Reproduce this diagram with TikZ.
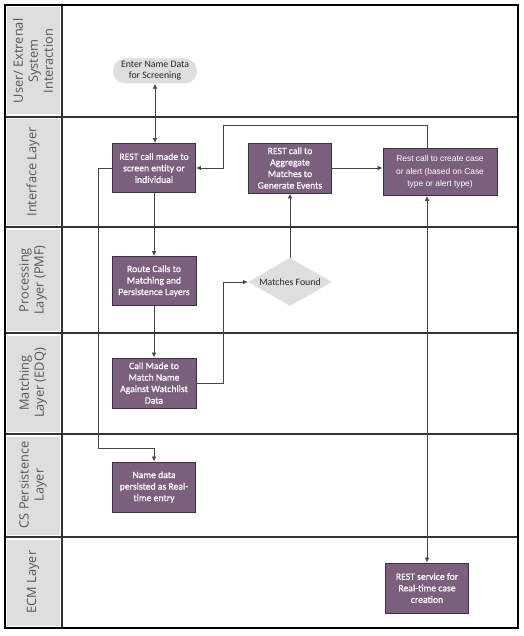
\documentclass[tikz,border=0pt]{standalone}
\usepackage{fontspec}
\newfontfamily\boxfont[FakeBold=0.6]{Carlito}
\newfontfamily\plainboxfont{Carlito}
\newfontfamily\lanefont{Open Sans}
\newfontfamily\tahfont{Liberation Sans}
\usetikzlibrary{shapes.geometric,arrows.meta,calc}
\definecolor{boxpurple}{HTML}{7B607E}
\definecolor{boxedge}{HTML}{3F2F42}
\definecolor{lanegrey}{HTML}{DEDEDE}
\definecolor{lanetext}{HTML}{555555}
\definecolor{linegrey}{HTML}{454545}
\definecolor{shapegrey}{HTML}{DEDEDE}
\tikzset{
  purplebox/.style={draw=boxedge, line width=0.9pt, fill=boxpurple, text=white, align=center,
    inner sep=1pt, font=\boxfont\fontsize{9.7}{11.5}\selectfont},
  lanelabel/.style={rotate=90, text=lanetext, align=center, font=\lanefont\fontsize{12.8}{15}\selectfont},
  flow/.style={draw=linegrey, line width=0.75pt, -{Latex[length=5pt,width=4.5pt]}},
  biflow/.style={draw=linegrey, line width=0.75pt, {Latex[length=5pt,width=4.5pt]}-{Latex[length=5pt,width=4.5pt]}},
  lanediv/.style={draw=black!80, line width=1.2pt}
}
\begin{document}
\begin{tikzpicture}[x=1pt,y=-1pt]
\useasboundingbox (0,0) rectangle (523,636);
% lane label cells
\foreach \t/\b in {5/117,117/227,227/333,333/434,434/537,537/628}{
  \fill[lanegrey] (7,\t+2.5) rectangle (59.5,\b-2.5);
}
% lane dividers
\foreach \y in {117,227,333,434,537}{
  \draw[lanediv] (5,\y) -- (518,\y);
}
\draw[lanediv] (62,5) -- (62,628);
\draw[line width=2pt] (5,5) rectangle (518,628);
% lane labels
\node[lanelabel] (l1) at (33,61) {User/ Extrenal\\System\\Interaction};
\node[lanelabel] (l2) at (33,172) {Interface Layer};
\node[lanelabel] (l3) at (33,280) {Processing\\Layer (PMF)};
\node[lanelabel] (l4) at (33,383) {Matching\\Layer (EDQ)};
\node[lanelabel] (l5) at (33,485) {CS Persistence\\Layer};
\node[lanelabel] (l6) at (33,582) {ECM Layer};
% nodes
\node[fill=shapegrey, rounded corners=12.5pt, minimum width=84pt, minimum height=25pt, inner sep=1pt,
  align=center, text=black!85, font=\plainboxfont\fontsize{9.8}{11}\selectfont] (enter) at (155,71) {Enter Name Data\\for Screening};
\node[purplebox, minimum width=83pt, minimum height=49pt] (rest1) at (154,168) {REST call made to\\screen entity or\\individual};
\node[purplebox, minimum width=83pt, minimum height=50pt] (agg) at (290,168) {REST call to\\Aggregate\\Matches to\\Generate Events};
\node[purplebox, minimum width=114pt, minimum height=47pt, font=\tahfont\fontsize{8.4}{12.5}\selectfont] (create) at (440,172) {Rest call to create case\\or alert (based on Case\\type or alert type)};
\node[purplebox, minimum width=84pt, minimum height=49pt] (route) at (154,281) {Route Calls to\\Matching and\\Persistence Layers};
\node[diamond, aspect=1.75, fill=shapegrey, minimum width=84pt, minimum height=48pt, inner sep=0pt,
  text=black!85, font=\plainboxfont\fontsize{9.8}{11}\selectfont] (found) at (290,282) {Matches Found};
\node[purplebox, minimum width=84pt, minimum height=50pt] (match) at (154,383) {Call Made to\\Match Name\\Against Watchlist\\Data};
\node[purplebox, minimum width=83pt, minimum height=50pt] (persist) at (154,487) {Name data\\persisted as Real-\\time entry};
\node[purplebox, minimum width=83pt, minimum height=50pt] (ecm) at (427,588) {REST service for\\Real-time case\\creation};
% connectors
\draw[biflow] (enter.south) -- (enter.south |- rest1.north);
\draw[flow] (rest1.south) -- (route.north);
\draw[flow] (route.south) -- (match.north);
\coordinate (c1) at (98,448);
\draw[flow] (rest1.west) -| (c1) -| (persist.north);
\coordinate (c2) at (223,282);
\draw[flow] (match.east) -| (c2) -- (found.west);
\draw[flow] (found.north) -- (agg.south);
\draw[flow] (agg.east) -- (agg.east -| create.west);
\coordinate (c3) at (427,125);
\coordinate (c4) at (223,125);
\draw[flow] (c3 |- create.north) -- (c3) -- (c4) |- (rest1.east);
\draw[biflow] (ecm.north |- create.south) -- (ecm.north);
\end{tikzpicture}
\end{document}
